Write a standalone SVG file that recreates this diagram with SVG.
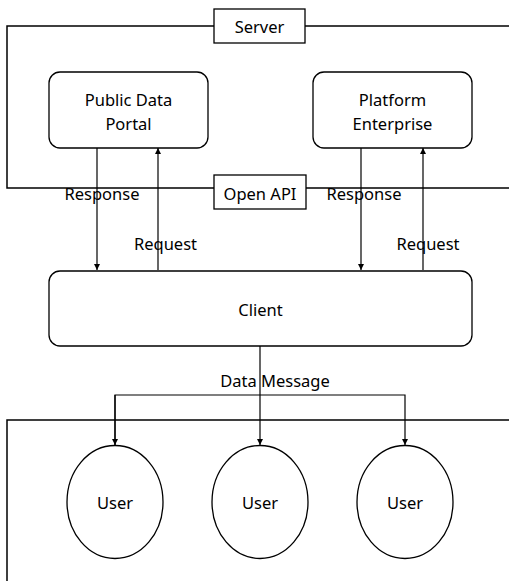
<svg xmlns="http://www.w3.org/2000/svg" width="509" height="581" viewBox="0 0 509 581">
<style>
text{font-family:"Noto Sans","Liberation Sans",sans-serif;font-size:16.5px;fill:#000;text-anchor:middle}
.frame{fill:none;stroke:#000;stroke-width:1.5}
.box{fill:#fff;stroke:#000;stroke-width:1.3}
.conn{fill:none;stroke:#000;stroke-width:1.2}
</style>
<defs>
<marker id="arr" viewBox="0 0 6 6" refX="6" refY="3" markerWidth="6" markerHeight="6" markerUnits="userSpaceOnUse" orient="auto">
<path d="M0,0 L6,3 L0,6 z" fill="#000"/>
</marker>
</defs>
<rect width="509" height="581" fill="#fff"/>
<g id="server-frame">
<path class="frame" d="M509,26 H7 V188 H509"/>
</g>
<g id="user-frame">
<path class="frame" d="M509,420 H7 V581"/>
</g>
<g id="connectors">
<line class="conn" x1="97" y1="148" x2="97" y2="270" marker-end="url(#arr)"/>
<line class="conn" x1="158" y1="270" x2="158" y2="148" marker-end="url(#arr)"/>
<line class="conn" x1="361" y1="148" x2="361" y2="270" marker-end="url(#arr)"/>
<line class="conn" x1="423" y1="270" x2="423" y2="148" marker-end="url(#arr)"/>
<line class="conn" x1="260" y1="346" x2="260" y2="445" marker-end="url(#arr)"/>
<path class="conn" d="M115,445 V395 H405 V445" marker-end="url(#arr)"/>
<line class="conn" x1="115" y1="395" x2="115" y2="445" marker-end="url(#arr)"/>
<text x="102" y="200">Response</text>
<text x="165.5" y="250">Request</text>
<text x="364" y="200">Response</text>
<text x="428" y="250">Request</text>
<text x="275" y="387">Data Message</text>
</g>
<g id="server-label">
<rect class="box" x="214" y="9" width="91" height="34"/>
<text x="259.5" y="33">Server</text>
</g>
<g id="openapi-label">
<rect class="box" x="214" y="175" width="92" height="34"/>
<text x="260" y="200">Open API</text>
</g>
<g id="public-data-portal">
<rect class="box" x="49" y="72" width="159" height="76" rx="11"/>
<text x="128.5" y="106">Public Data</text>
<text x="128.5" y="130">Portal</text>
</g>
<g id="platform-enterprise">
<rect class="box" x="313" y="72" width="159" height="76" rx="11"/>
<text x="392.5" y="106">Platform</text>
<text x="392.5" y="130">Enterprise</text>
</g>
<g id="client">
<rect class="box" x="49" y="271" width="423" height="75" rx="11"/>
<text x="260.5" y="316">Client</text>
</g>
<g id="user1">
<ellipse class="box" cx="115" cy="502" rx="48" ry="56.5"/>
<text x="115" y="509">User</text>
</g>
<g id="user2">
<ellipse class="box" cx="260" cy="502" rx="48" ry="56.5"/>
<text x="260" y="509">User</text>
</g>
<g id="user3">
<ellipse class="box" cx="405" cy="502" rx="48" ry="56.5"/>
<text x="405" y="509">User</text>
</g>
</svg>
